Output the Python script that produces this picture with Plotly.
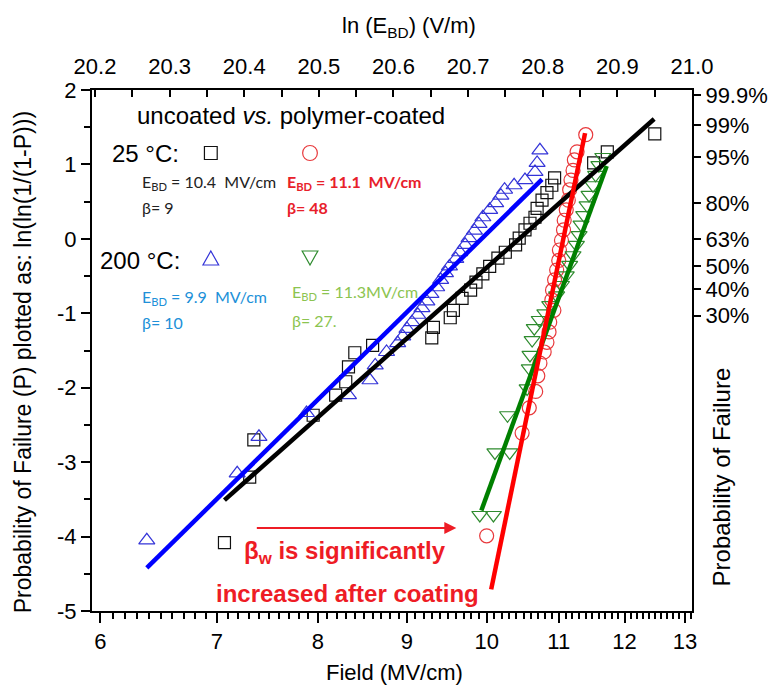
import math
import plotly.graph_objects as go

# ---------------- data ----------------
# uncoated, 25 C  (black squares)
sq_x = [12.49, 11.73, 11.52, 10.94, 10.90, 10.83, 10.76, 10.69, 10.66, 10.59, 10.52,
        10.44, 10.39, 10.25, 10.15, 10.04, 9.95, 9.86, 9.79, 9.68, 9.57, 9.53, 9.32,
        9.30, 8.60, 8.40, 8.33, 8.30, 8.19, 7.95, 7.35, 7.31, 7.07]
sq_y = [1.41, 1.17, 1.02, 0.82, 0.72, 0.62, 0.52, 0.41, 0.29, 0.21, 0.12,
        0.01, -0.08, -0.18, -0.26, -0.37, -0.47, -0.58, -0.69, -0.80, -0.96, -1.06, -1.19,
        -1.33, -1.43, -1.53, -1.72, -1.92, -2.10, -2.37, -2.70, -3.20, -4.08]

# coated, 25 C (red circles)
ci_x = [11.40, 11.27, 11.23, 11.21, 11.18, 11.16, 11.14, 11.11, 11.08, 11.07, 11.04,
        11.01, 11.00, 10.97, 10.94, 10.91, 10.90, 10.93, 10.87, 10.86, 10.83, 10.79,
        10.73, 10.70, 10.67, 10.58, 10.48, 10.00]
ci_y = [1.40, 1.17, 1.06, 0.92, 0.79, 0.66, 0.52, 0.39, 0.25, 0.12, -0.02,
        -0.15, -0.29, -0.42, -0.55, -0.69, -0.82, -0.96, -1.12, -1.25, -1.39, -1.52,
        -1.67, -1.84, -2.05, -2.27, -2.61, -3.99]

# uncoated, 200 C (blue up-triangles)
tu_x = [6.38, 7.19, 7.40, 7.88, 8.33, 8.57, 8.63, 8.76,
        8.89, 8.95, 9.00, 9.06, 9.13, 9.18, 9.24, 9.29, 9.36, 9.41, 9.47, 9.52, 9.60,
        9.65, 9.72, 9.77, 9.84, 9.90, 9.95, 10.04, 10.12, 10.19, 10.24, 10.37, 10.52,
        10.66, 10.69, 10.73]
tu_y = [-4.05, -3.15, -2.66, -2.34, -2.10, -1.90, -1.70, -1.52,
        -1.40, -1.31, -1.21, -1.12, -1.02, -0.93, -0.84, -0.74, -0.65, -0.55, -0.46, -0.37, -0.27,
        -0.18, -0.08, 0.01, 0.11, 0.20, 0.29, 0.39, 0.48, 0.58, 0.66, 0.72, 0.79,
        0.90, 1.02, 1.19]

# coated, 200 C (green down-triangles)
td_x = [11.66, 11.60, 11.55, 11.51, 11.45, 11.42, 11.37, 11.33, 11.30, 11.26, 11.21,
        11.16, 11.11, 11.04, 10.97, 10.87, 10.80, 10.72, 10.65, 10.62, 10.59, 10.58,
        10.55, 10.28, 10.11, 10.31, 9.91, 10.09]
td_y = [1.10, 0.99, 0.86, 0.72, 0.59, 0.45, 0.32, 0.19, 0.05, -0.08, -0.22,
        -0.35, -0.49, -0.62, -0.76, -0.89, -1.00, -1.09, -1.20, -1.36, -1.56, -1.74,
        -2.01, -2.37, -2.87, -2.87, -3.71, -3.71]

# Weibull fit lines (end points)
fit_black_x, fit_black_y = [7.07, 12.48], [-3.51, 1.61]
fit_blue_x, fit_blue_y = [6.38, 10.76], [-4.42, 0.80]
fit_red_x, fit_red_y = [10.06, 11.39], [-4.71, 1.42]
fit_green_x, fit_green_y = [9.93, 11.72], [-3.65, 0.98]

# axis ticks
x_ticks = [6, 7, 8, 9, 10, 11, 12, 13]
y_ticks = [-5, -4, -3, -2, -1, 0, 1, 2]
prob_vals = [0.999, 0.99, 0.95, 0.80, 0.632, 0.50, 0.40, 0.30]
prob_labels = ["99.9%", "99%", "95%", "80%", "63%", "50%", "40%", "30%"]
top_range = [20.196, 21.0]

# ---------------- styling ----------------
FONT = "Liberation Sans, Arial, sans-serif"
CAL = "Lato, Liberation Sans, sans-serif"
W, H = 780, 694
L, R, T, B = 92, 703, 90, 611


def px(xp):
    return (xp - L) / (R - L)


def py(yp):
    return (B - yp) / (B - T)


BLACK = "#111111"
RED_M = "#e8393c"
BLUE_M = "#3434d8"
GREEN_M = "#2e8b2e"

fig = go.Figure()

fig.add_trace(go.Scatter(x=sq_x, y=sq_y, mode="markers",
                         marker=dict(symbol="square-open", size=12, color=BLACK,
                                     line=dict(width=1.2, color=BLACK))))
fig.add_trace(go.Scatter(x=tu_x, y=tu_y, mode="markers",
                         marker=dict(symbol="triangle-up-open", size=14, color=BLUE_M,
                                     line=dict(width=1.2, color=BLUE_M))))
fig.add_trace(go.Scatter(x=ci_x, y=ci_y, mode="markers",
                         marker=dict(symbol="circle-open", size=14, color=RED_M,
                                     line=dict(width=1.2, color=RED_M))))
fig.add_trace(go.Scatter(x=td_x, y=td_y, mode="markers",
                         marker=dict(symbol="triangle-down-open", size=14, color=GREEN_M,
                                     line=dict(width=1.2, color=GREEN_M))))

for fx, fy, col in [(fit_blue_x, fit_blue_y, "#0000ff"),
                    (fit_black_x, fit_black_y, "#000000"),
                    (fit_green_x, fit_green_y, "#008000"),
                    (fit_red_x, fit_red_y, "#ff0000")]:
    fig.add_trace(go.Scatter(x=fx, y=fy, mode="lines", line=dict(color=col, width=4.5)))

# dummy traces so the secondary axes are drawn
fig.add_trace(go.Scatter(x=top_range, y=[-50, -50], xaxis="x2", yaxis="y", mode="markers",
                         marker=dict(opacity=0), hoverinfo="skip"))
fig.add_trace(go.Scatter(x=[7, 8], y=[-50, -50], xaxis="x", yaxis="y2", mode="markers",
                         marker=dict(opacity=0), hoverinfo="skip"))

tick_font = dict(family=FONT, size=22, color="black")
minor_x = [v / 10 for v in range(60, 132) if v % 10]

fig.update_layout(
    width=W, height=H,
    margin=dict(l=L, r=W - R, t=T, b=H - B),
    paper_bgcolor="white", plot_bgcolor="white",
    showlegend=False,
    xaxis=dict(type="log", range=[math.log10(5.934), math.log10(13.12)],
               tickvals=x_ticks, ticktext=[str(v) for v in x_ticks],
               ticks="outside", ticklen=10, tickwidth=1.5, tickcolor="black",
               showline=True, linewidth=2, linecolor="black", showgrid=False, zeroline=False,
               tickfont=tick_font, ticklabelstandoff=0,
               minor=dict(tickvals=minor_x, ticks="outside", ticklen=6, tickwidth=1.5,
                          tickcolor="black", showgrid=False)),
    yaxis=dict(range=[-5, 2], tickvals=y_ticks, ticktext=[str(v) for v in y_ticks],
               ticks="outside", ticklen=9, tickwidth=1.5, tickcolor="black",
               showline=True, linewidth=2, linecolor="black", showgrid=False, zeroline=False,
               tickfont=tick_font,
               minor=dict(dtick=0.5, tick0=0, ticks="outside", ticklen=6, tickwidth=1.5,
                          tickcolor="black", showgrid=False)),
    xaxis2=dict(overlaying="x", side="top", anchor="y", range=top_range,
                tick0=20.2, dtick=0.1, tickformat=".1f",
                ticks="inside", ticklen=7, tickwidth=1.5, tickcolor="black",
                showline=True, linewidth=2, linecolor="black", showgrid=False, zeroline=False,
                tickfont=tick_font, ticklabelstandoff=5,
                minor=dict(tick0=20.2, dtick=0.05, ticks="inside", ticklen=7, tickwidth=1.5,
                           tickcolor="black", showgrid=False)),
    yaxis2=dict(overlaying="y", side="right", anchor="x", range=[-5, 2],
                tickvals=[math.log(-math.log(1 - p)) for p in prob_vals], ticktext=prob_labels,
                ticks="outside", ticklen=7, tickwidth=1.5, tickcolor="black",
                showline=True, linewidth=2, linecolor="black", showgrid=False, zeroline=False,
                tickfont=tick_font),
)

ann = []


def text(xp, yp, s, size=22, color="black", family=FONT, anchor="left", angle=0):
    ann.append(dict(x=px(xp), y=py(yp), xref="paper", yref="paper", text=s, showarrow=False,
                    xanchor=anchor, yanchor="middle", textangle=angle,
                    font=dict(family=family, size=size, color=color)))


# axis titles
text(415, 27, "ln (E<sub>BD</sub>) (V/m)", size=22, anchor="center")
text(400, 672, "Field (MV/cm)", size=22, anchor="center")
text(22, 362, "Probability of Failure (P) plotted as: ln(ln(1/(1-P)))", size=23,
     anchor="center", angle=-90)
text(733, 477, "Probability of Failure", size=24, anchor="center", angle=-90)

# in-plot legend text
text(136, 115, "uncoated <i>vs.</i> polymer-coated", size=24)
text(110, 153, "25 °C:", size=24)
text(98, 260, "200 °C:", size=24)
text(141, 183, "E<sub>BD</sub> = 10.4\u00a0 MV/cm", size=16, color="#222222", family=CAL)
text(141, 208, "β= 9", size=16, color="#222222", family=CAL)
text(289, 183, "<b>E<sub>BD</sub> = 11.1\u00a0 MV/cm</b>", size=16, color="#e8202a", family=CAL)
text(289, 208, "<b>β= 48</b>", size=16, color="#e8202a", family=CAL)
text(141, 297, "E<sub>BD</sub> = 9.9\u00a0 MV/cm", size=16, color="#2090d8", family=CAL)
text(141, 322, "β= 10", size=16, color="#2090d8", family=CAL)
text(294, 292, "E<sub>BD</sub> = 11.3MV/cm", size=16, color="#8cc450", family=CAL)
text(294, 320, "β= 27.", size=16, color="#8cc450", family=CAL)

# conclusion text
text(350, 552, "<b>β<sub>w</sub> is significantly</b>", size=24, color="#ee1c25", anchor="center")
text(352, 593, "<b>increased after coating</b>", size=24, color="#ee1c25", anchor="center")

# arrow
ann.append(dict(x=px(463), y=py(528), xref="paper", yref="paper", text="", showarrow=True,
                ax=-201, ay=0, axref="pixel", ayref="pixel", arrowhead=2, arrowsize=1.2,
                arrowwidth=2, arrowcolor="#ee1c25"))

fig.update_layout(annotations=ann)

# legend key symbols (paper-positioned shapes)
shapes = [
    dict(type="rect", xref="paper", yref="paper",
         x0=px(206.5), x1=px(219.5), y0=py(159.5), y1=py(146.5),
         line=dict(color=BLACK, width=1.2)),
    dict(type="circle", xref="paper", yref="paper",
         x0=px(306.5), x1=px(321.5), y0=py(160.5), y1=py(145.5),
         line=dict(color=RED_M, width=1.2)),
    dict(type="path", xref="paper", yref="paper",
         path=f"M {px(205)},{py(265)} L {px(221)},{py(265)} L {px(213)},{py(251)} Z",
         line=dict(color=BLUE_M, width=1.2)),
    dict(type="path", xref="paper", yref="paper",
         path=f"M {px(306)},{py(251)} L {px(322)},{py(251)} L {px(314)},{py(265)} Z",
         line=dict(color=GREEN_M, width=1.2)),
]
fig.update_layout(shapes=shapes)

fig.write_html("out.html")
